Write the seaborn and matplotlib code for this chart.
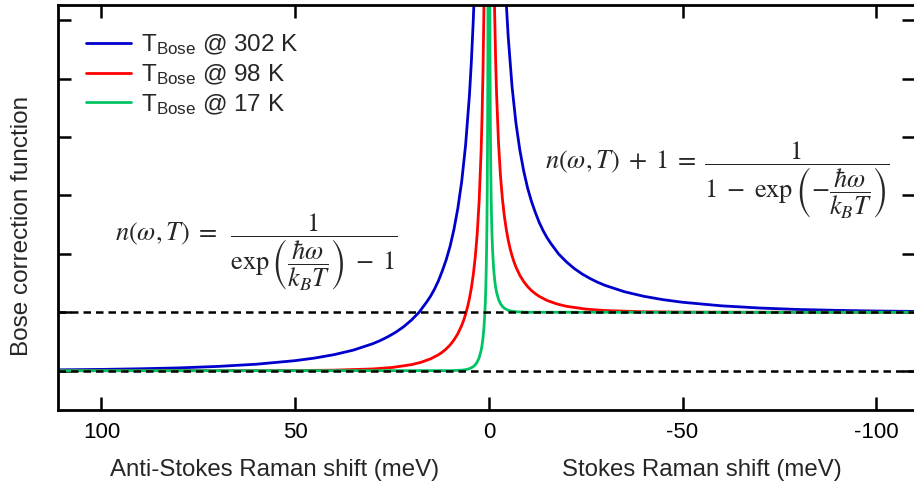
import numpy as np
import pandas as pd
import matplotlib
matplotlib.use("Agg")
import matplotlib.pyplot as plt
import seaborn as sns

# Bose correction values (energy in meV, positive side)
temps = [302, 98, 17]
colors = ["#0000CC", "#FF0000", "#00C462"]

energy_302 = [3.5, 4, 4.5, 5, 6, 7, 8, 9, 10, 11, 12, 13, 14, 15, 16, 18, 20, 22, 24, 26, 28, 30,
              35, 40, 45, 50, 60, 70, 80, 90, 100, 112]
anti_302 = [6.94, 6.02, 5.30, 4.72, 3.86, 3.24, 2.78, 2.42, 2.13, 1.90, 1.71, 1.54, 1.40, 1.28, 1.18,
            1.00, 0.865, 0.752, 0.660, 0.583, 0.517, 0.461, 0.352, 0.274, 0.216, 0.172, 0.111,
            0.073, 0.048, 0.033, 0.022, 0.014]
stokes_302 = [7.94, 7.02, 6.30, 5.72, 4.86, 4.24, 3.78, 3.42, 3.13, 2.90, 2.71, 2.54, 2.40, 2.28, 2.18,
              2.00, 1.865, 1.752, 1.660, 1.583, 1.517, 1.461, 1.352, 1.274, 1.216, 1.172, 1.111,
              1.073, 1.048, 1.033, 1.022, 1.014]

energy_98 = [1.0, 1.25, 1.5, 1.75, 2, 2.5, 3, 3.5, 4, 4.5, 5, 5.5, 6, 6.5, 7, 8, 9, 10, 11, 12, 13,
             15, 17.5, 20, 25, 30, 40, 50, 60, 112]
anti_98 = [7.955, 6.268, 5.144, 4.343, 3.742, 2.902, 2.344, 1.947, 1.650, 1.421, 1.238, 1.089, 0.966,
           0.863, 0.775, 0.633, 0.526, 0.441, 0.373, 0.318, 0.273, 0.204, 0.144, 0.103, 0.055,
           0.030, 0.009, 0.003, 0.001, 0.0]
stokes_98 = [8.955, 7.268, 6.144, 5.343, 4.742, 3.902, 3.344, 2.947, 2.650, 2.421, 2.238, 2.089, 1.966,
             1.863, 1.775, 1.633, 1.526, 1.441, 1.373, 1.318, 1.273, 1.204, 1.144, 1.103, 1.055,
             1.030, 1.009, 1.003, 1.001, 1.0]

energy_17 = [0.15, 0.2, 0.25, 0.3, 0.35, 0.4, 0.45, 0.5, 0.6, 0.7, 0.8, 0.9, 1.0, 1.25, 1.5, 1.75,
             2, 2.5, 3, 3.5, 4, 5, 6, 7, 10, 112]
anti_17 = [9.275, 6.836, 5.374, 4.400, 3.705, 3.185, 2.781, 2.458, 1.975, 1.632, 1.376, 1.179, 1.021,
           0.742, 0.561, 0.434, 0.343, 0.222, 0.148, 0.101, 0.070, 0.034, 0.017, 0.009, 0.001, 0.0]
stokes_17 = [10.275, 7.836, 6.374, 5.400, 4.705, 4.185, 3.781, 3.458, 2.975, 2.632, 2.376, 2.179, 2.021,
             1.742, 1.561, 1.434, 1.343, 1.222, 1.148, 1.101, 1.070, 1.034, 1.017, 1.009, 1.001, 1.0]

xticks = [100, 50, 0, -50, -100]
xtick_labels = ["100", "50", "0", "-50", "-100"]
yticks = [0, 1, 2, 3, 4, 5, 6]

sns.set_theme(style="ticks")
plt.rcParams["font.family"] = ["Liberation Sans", "DejaVu Sans"]
plt.rcParams["mathtext.fontset"] = "custom"
plt.rcParams["mathtext.rm"] = "Liberation Sans"
plt.rcParams["mathtext.it"] = "Liberation Sans:italic"
plt.rcParams["axes.unicode_minus"] = False

# long table: anti-Stokes side at +E, Stokes side at -E
rows = []
series = [(energy_302, anti_302, stokes_302), (energy_98, anti_98, stokes_98), (energy_17, anti_17, stokes_17)]
labels = [r"T$_{\mathrm{Bose}}$ @ %d K" % t for t in temps]
for lab, (e, a, s) in zip(labels, series):
    for ei, ai in zip(e, a):
        rows.append((lab, "anti", ei, ai))
    for ei, si in zip(e, s):
        rows.append((lab, "stokes", -ei, si))
df = pd.DataFrame(rows, columns=["label", "branch", "shift", "value"])

fig = plt.figure(figsize=(9.14, 4.95), dpi=100)
ax = fig.add_axes([58 / 914, 85 / 495, 857 / 914, 405 / 495])

sns.lineplot(data=df, x="shift", y="value", hue="label", units="branch", estimator=None,
             palette=dict(zip(labels, colors)), hue_order=labels, sort=False,
             linewidth=2.0, ax=ax)

# dashed reference levels drawn over the curves
for yv in [0, 1]:
    ax.axhline(yv, color="black", lw=1.8, dashes=(3, 2), zorder=5)

ax.set_xlim(111.2, -110)
ax.set_ylim(-0.673, 6.262)
ax.set_xticks(xticks)
ax.set_xticklabels(xtick_labels)
ax.set_yticks(yticks)
ax.set_xlabel("")
ax.set_ylabel("")
ax.tick_params(direction="in", length=9.5, width=1.8, top=True, right=True,
               labelleft=False, labelsize=16, pad=9, colors="black")
for sp in ax.spines.values():
    sp.set_linewidth(2.0)
    sp.set_color("black")

sns.move_legend(ax, "upper left", bbox_to_anchor=(0.0327, 0.932), frameon=False,
                fontsize=17.5, handlelength=1.85, handletextpad=0.4, labelspacing=0.2,
                borderpad=0, borderaxespad=0, title=None)

fig.text(275 / 914, 1 - 470 / 495, "Anti-Stokes Raman shift (meV)", ha="center", va="center", fontsize=17.3)
fig.text(702 / 914, 1 - 470 / 495, "Stokes Raman shift (meV)", ha="center", va="center", fontsize=17.3)
fig.text(22 / 914, 1 - 226 / 495, "Bose correction function", ha="center", va="center",
         rotation=90, fontsize=17.5)

fig.text(256 / 914, 1 - 252 / 495,
         r"$n(\omega,T)\;=\;\;\dfrac{1}{\exp\left(\dfrac{\hbar\omega}{k_BT}\right)\;-\;1}$",
         ha="center", va="center", fontsize=19, math_fontfamily="stix")
fig.text(717 / 914, 1 - 180 / 495,
         r"$n(\omega,T)\;+\;1\;=\;\dfrac{1}{1\;-\;\exp\left(-\dfrac{\hbar\omega}{k_BT}\right)}$",
         ha="center", va="center", fontsize=19, math_fontfamily="stix")

fig.savefig("out.png", dpi=100)
